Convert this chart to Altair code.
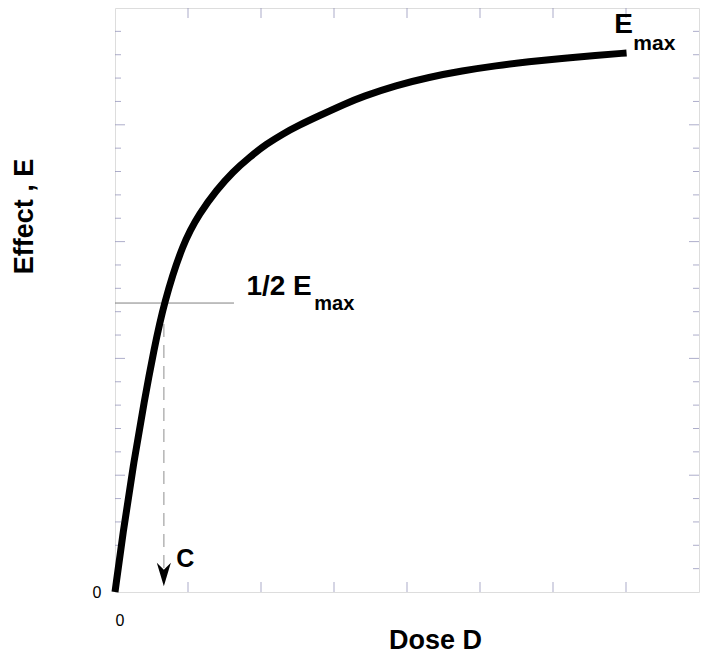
import altair as alt
import pandas as pd

FONT = "Liberation Sans"

# curve (Dose D, Effect E)
dose = [0.0, 0.109, 0.246, 0.403, 0.533, 0.669, 0.929, 1.161, 1.393, 1.612, 1.844,
        2.077, 2.295, 2.527, 2.760, 3.169, 3.388, 3.852, 4.303, 4.754, 5.219, 5.669,
        6.120, 6.585, 7.008]
effect = [0.0, 0.505, 1.070, 1.644, 2.072, 2.474, 2.988, 3.245, 3.442, 3.596, 3.724,
          3.836, 3.921, 3.998, 4.067, 4.184, 4.241, 4.338, 4.408, 4.462, 4.506, 4.540,
          4.568, 4.594, 4.615]

half_emax = 2.474
c_dose = 0.669
half_line_end = 1.63
dash_end = 0.19
arrow_y = 0.15

x_ticks = [1, 2, 3, 4, 5, 6, 7]
y_major = [1, 2, 3, 4]
y_minor = [0.2, 0.4, 0.6, 0.8, 1.2, 1.4, 1.6, 1.8, 2.2, 2.4, 2.6, 2.8,
           3.2, 3.4, 3.6, 3.8, 4.2, 4.4, 4.6, 4.8]

label_text = ["E", "max", "1/2 E", "max", "C"]
label_x = [6.84, 7.10, 1.80, 2.73, 0.84]
label_y = [4.786, 4.640, 2.543, 2.414, 0.214]
label_size = [28, 21, 28, 20, 25]

xs = alt.Scale(domain=[0, 8], nice=False, zero=False)
ys = alt.Scale(domain=[0, 5], nice=False, zero=False)

curve_df = pd.DataFrame({"D": dose, "E": effect})
xt_df = pd.DataFrame({"D": x_ticks})
ymaj_df = pd.DataFrame({"E": y_major})
ymin_df = pd.DataFrame({"E": y_minor})
lab_df = pd.DataFrame({"t": label_text, "D": label_x, "E": label_y, "s": label_size})
half_df = pd.DataFrame({"D": [0.0], "D2": [half_line_end], "E": [half_emax]})
dash_df = pd.DataFrame({"D": [c_dose], "E": [half_emax], "E2": [dash_end]})
arrow_df = pd.DataFrame({"D": [c_dose], "E": [arrow_y]})

TICK_COLOR = "#8a8ab4"

curve = alt.Chart(curve_df).mark_line(color="black", strokeWidth=7, strokeCap="butt",
                                      interpolate="basis").encode(
    x=alt.X("D:Q", scale=xs, axis=alt.Axis(values=[0], labelExpr="'0'", title="Dose D",
                                              grid=False, domain=False, ticks=False,
                                              labelFontSize=16, labelFont=FONT,
                                              labelColor="black", labelPadding=20,
                                              titleFont=FONT, titleFontSize=27,
                                              titleFontWeight="bold", titleColor="black",
                                              titleY=56, titleBaseline="alphabetic",
                                              titleX=320, titleAlign="center")),
    y=alt.Y("E:Q", scale=ys, axis=alt.Axis(values=[0], labelExpr="'0'", title="Effect , E",
                                              grid=False, domain=False, ticks=False,
                                              labelFontSize=16, labelFont=FONT,
                                              labelColor="black", labelPadding=14,
                                              titleFont=FONT, titleFontSize=27,
                                              titleFontWeight="bold", titleColor="black",
                                              titleX=-91, titleY=208,
                                              titleBaseline="middle", titleAlign="center")),
    order=alt.Order("D:Q"),
)

half_line = alt.Chart(half_df).mark_rule(color="#808080", strokeWidth=1).encode(
    x=alt.X("D:Q", scale=xs), x2="D2:Q", y=alt.Y("E:Q", scale=ys))

dash_line = alt.Chart(dash_df).mark_rule(color="#b4b4b4", strokeWidth=1.5,
                                         strokeDash=[13, 8]).encode(
    x=alt.X("D:Q", scale=xs), y=alt.Y("E:Q", scale=ys), y2="E2:Q")

arrow = alt.Chart(arrow_df).mark_point(
    shape="M -0.6 -1 L 0 1 L 0.6 -1 L 0 -0.4 Z", filled=True, color="black",
    size=550, opacity=1, strokeWidth=0).encode(
    x=alt.X("D:Q", scale=xs), y=alt.Y("E:Q", scale=ys))

bottom_ticks = alt.Chart(xt_df).mark_tick(orient="vertical", color=TICK_COLOR,
                                          thickness=1, size=10).encode(
    x=alt.X("D:Q", scale=xs), y=alt.value(579))
top_ticks = alt.Chart(xt_df).mark_tick(orient="vertical", color=TICK_COLOR,
                                       thickness=1, size=10).encode(
    x=alt.X("D:Q", scale=xs), y=alt.value(5))
left_major = alt.Chart(ymaj_df).mark_tick(orient="horizontal", color=TICK_COLOR,
                                          thickness=1, size=10).encode(
    y=alt.Y("E:Q", scale=ys), x=alt.value(5))
left_minor = alt.Chart(ymin_df).mark_tick(orient="horizontal", color=TICK_COLOR,
                                          thickness=1, size=6).encode(
    y=alt.Y("E:Q", scale=ys), x=alt.value(3))
right_major = alt.Chart(ymaj_df).mark_tick(orient="horizontal", color=TICK_COLOR,
                                           thickness=1, size=10).encode(
    y=alt.Y("E:Q", scale=ys), x=alt.value(579))
right_minor = alt.Chart(ymin_df).mark_tick(orient="horizontal", color=TICK_COLOR,
                                           thickness=1, size=6).encode(
    y=alt.Y("E:Q", scale=ys), x=alt.value(581))

labels = alt.Chart(lab_df).mark_text(font=FONT, fontWeight="bold", color="black",
                                     align="left", baseline="alphabetic").encode(
    x=alt.X("D:Q", scale=xs), y=alt.Y("E:Q", scale=ys), text="t:N",
    size=alt.Size("s:Q", scale=None, legend=None))

chart = alt.layer(
    half_line, dash_line, bottom_ticks, top_ticks, left_major, left_minor,
    right_major, right_minor, curve, arrow, labels
).properties(
    width=584, height=584,
    autosize=alt.AutoSizeParams(type="none"),
    padding={"left": 107, "top": 0, "right": 7, "bottom": 67},
).configure_view(
    stroke="#7c7cc8", strokeWidth=1
).configure(background="white")

chart.save("out.html", embed_options={"renderer": "svg", "actions": False})
